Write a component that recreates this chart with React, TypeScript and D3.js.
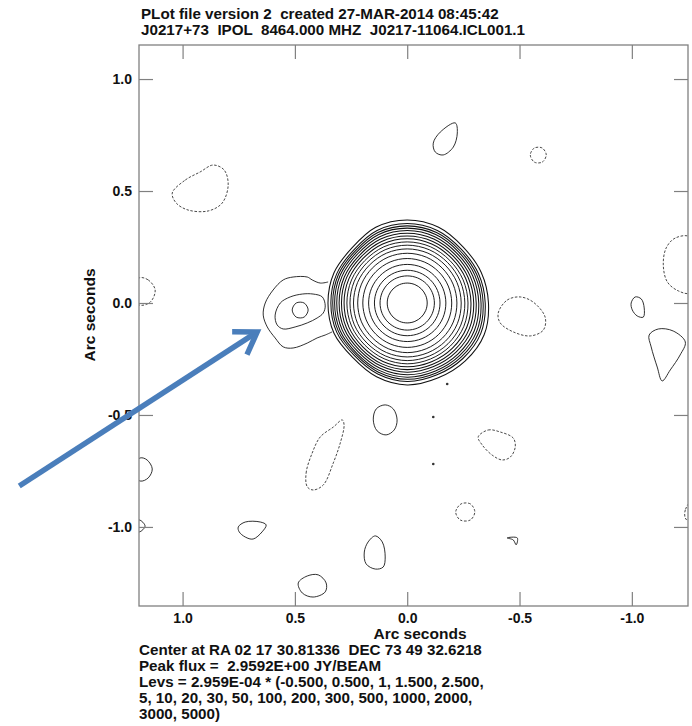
import React, { useRef, useEffect } from 'react';
import * as d3 from 'd3';

type Pt = [number, number];

const headerLines = [
  'PLot file version 2  created 27-MAR-2014 08:45:42',
  'J0217+73  IPOL  8464.000 MHZ  J0217-11064.ICL001.1',
];
const footerLines = [
  'Center at RA 02 17 30.81336  DEC 73 49 32.6218',
  'Peak flux =  2.9592E+00 JY/BEAM',
  'Levs = 2.959E-04 * (-0.500, 0.500, 1, 1.500, 2.500,',
  '5, 10, 20, 30, 50, 100, 200, 300, 500, 1000, 2000,',
  '3000, 5000)',
];
const tickValues = [1.0, 0.5, 0.0, -0.5, -1.0];
const tickLabels = ['1.0', '0.5', '0.0', '-0.5', '-1.0'];

// arc seconds shown on each axis (RA grows to the left)
const xExtent: Pt = [1.194, -1.25];
const yExtent: Pt = [-1.353, 1.152];

// core: ring radii (arcsec) from the 5000 level out to the 0.5 level
const coreRadii = [0.089, 0.121, 0.146, 0.172, 0.198, 0.221, 0.24, 0.256, 0.27, 0.283, 0.295, 0.306, 0.317, 0.327, 0.336, 0.345, 0.359];
// outermost core contour, radius every 22.5 deg starting at screen right, going up
const coreOutline = [0.362, 0.357, 0.353, 0.366, 0.371, 0.366, 0.348, 0.353, 0.353, 0.353, 0.344, 0.357, 0.366, 0.362, 0.366, 0.371];

const solidContours: Pt[][] = [
  [[-0.116, 0.714], [-0.147, 0.763], [-0.214, 0.804], [-0.223, 0.759], [-0.205, 0.696], [-0.16, 0.661], [-0.125, 0.674]],
  [[-0.997, 0.0], [-1.015, 0.027], [-1.042, 0.018], [-1.055, -0.022], [-1.051, -0.063], [-1.024, -0.058], [-1.002, -0.031]],
  [[-1.077, -0.143], [-1.118, -0.116], [-1.184, -0.125], [-1.238, -0.174], [-1.215, -0.232], [-1.171, -0.299], [-1.135, -0.348], [-1.113, -0.286], [-1.086, -0.196]],
  [[1.189, -0.692], [1.158, -0.701], [1.135, -0.741], [1.153, -0.781], [1.189, -0.795], [1.233, -0.746]],
  [[1.193, -0.969], [1.167, -0.996], [1.193, -1.022], [1.215, -0.996]],
  [[0.045, -0.522], [0.062, -0.473], [0.098, -0.455], [0.138, -0.473], [0.151, -0.522], [0.134, -0.571], [0.094, -0.589], [0.058, -0.567]],
  [[0.752, -1.0], [0.721, -0.978], [0.654, -0.978], [0.628, -0.991], [0.646, -1.022], [0.686, -1.054], [0.721, -1.045], [0.748, -1.022]],
  [[0.174, -1.067], [0.142, -1.04], [0.111, -1.067], [0.098, -1.134], [0.107, -1.179], [0.142, -1.188], [0.183, -1.165], [0.191, -1.112]],
  [[0.485, -1.25], [0.445, -1.219], [0.396, -1.214], [0.361, -1.25], [0.365, -1.29], [0.419, -1.313], [0.467, -1.295]],
  [[-0.445, -1.049], [-0.49, -1.049], [-0.485, -1.08], [-0.472, -1.058]],
  // companion, 1 and higher levels
  [[0.378, 0.027], [0.419, 0.04], [0.467, 0.04], [0.521, 0.027], [0.565, 0.0], [0.588, -0.054], [0.579, -0.098], [0.552, -0.116], [0.499, -0.107], [0.445, -0.089], [0.401, -0.067], [0.374, -0.045], [0.365, -0.013]],
  [[0.441, -0.031], [0.459, 0.0], [0.494, 0.0], [0.512, -0.031], [0.494, -0.063], [0.459, -0.063]],
];

const dashedContours: Pt[][] = [
  [[-0.619, 0.661], [-0.601, 0.692], [-0.566, 0.692], [-0.548, 0.661], [-0.566, 0.629], [-0.601, 0.629]],
  [[-1.26, 0.295], [-1.193, 0.29], [-1.153, 0.246], [-1.14, 0.17], [-1.158, 0.094], [-1.207, 0.054], [-1.26, 0.045], [-1.305, 0.17]],
  [[-0.405, -0.045], [-0.445, 0.013], [-0.503, 0.027], [-0.561, 0.004], [-0.614, -0.063], [-0.606, -0.121], [-0.548, -0.147], [-0.472, -0.129], [-0.414, -0.089]],
  [[1.046, 0.491], [0.988, 0.549], [0.922, 0.585], [0.864, 0.616], [0.815, 0.594], [0.797, 0.527], [0.824, 0.446], [0.886, 0.411], [0.975, 0.415], [1.028, 0.446]],
  [[1.193, 0.112], [1.153, 0.103], [1.122, 0.058], [1.144, 0.004], [1.193, -0.009], [1.233, 0.049]],
  [[0.445, -0.821], [0.45, -0.759], [0.423, -0.67], [0.387, -0.598], [0.329, -0.554], [0.289, -0.522], [0.281, -0.545], [0.298, -0.625], [0.329, -0.714], [0.374, -0.813], [0.419, -0.835]],
  [[-0.316, -0.598], [-0.361, -0.567], [-0.414, -0.576], [-0.472, -0.603], [-0.481, -0.643], [-0.459, -0.688], [-0.423, -0.701], [-0.378, -0.679], [-0.334, -0.634]],
  [[-0.301, -0.933], [-0.281, -0.897], [-0.24, -0.897], [-0.216, -0.933], [-0.236, -0.969], [-0.281, -0.969]],
  [[-1.26, -0.893], [-1.238, -0.924], [-1.238, -0.96], [-1.26, -0.978], [-1.305, -0.933]],
];

// companion 0.5 level, merges into the core
const companionOuter: Pt[] = [[0.352, 0.094], [0.387, 0.089], [0.423, 0.103], [0.445, 0.116], [0.508, 0.116], [0.552, 0.103], [0.597, 0.058], [0.632, 0.0], [0.641, -0.054], [0.623, -0.107], [0.588, -0.156], [0.552, -0.196], [0.508, -0.201], [0.445, -0.179], [0.401, -0.156], [0.365, -0.143], [0.334, -0.129]];

const speckles: Pt[] = [[-0.116, -0.509], [-0.116, -0.719], [-0.178, -0.362]];

const arrowTail: Pt = [1.727, -0.817];
const arrowTip: Pt = [0.668, -0.129];

const W = 692;
const H = 726;
const plot = { left: 139, right: 688, top: 45, bottom: 606 };
const FONT = '"Liberation Sans", Arial, Helvetica, sans-serif';

const App = () => {
  const svgRef = useRef(null);

  useEffect(() => {
    const svg = d3.select(svgRef.current).attr('width', W).attr('height', H);
    svg.selectAll('*').remove();

    const x = d3.scaleLinear().domain(xExtent).range([plot.left, plot.right]);
    const y = d3.scaleLinear().domain(yExtent).range([plot.bottom, plot.top]);

    svg.append('rect').attr('width', W).attr('height', H).attr('fill', '#fff');

    svg.append('defs').append('clipPath').attr('id', 'plot-clip')
      .append('rect')
      .attr('x', plot.left).attr('y', plot.top)
      .attr('width', plot.right - plot.left).attr('height', plot.bottom - plot.top);

    const closed = d3.line<Pt>().x(d => x(d[0])).y(d => y(d[1])).curve(d3.curveCatmullRomClosed.alpha(0.5));
    const open = d3.line<Pt>().x(d => x(d[0])).y(d => y(d[1])).curve(d3.curveCatmullRom.alpha(0.5));

    const g = svg.append('g').attr('clip-path', 'url(#plot-clip)');

    // core rings, outer ones take on the shape of the outermost contour
    const outlineMean = d3.mean(coreOutline) as number;
    const rOuter = coreRadii[coreRadii.length - 1];
    const rings = coreRadii.map(r => {
      const w = Math.pow(r / rOuter, 4);
      return coreOutline.map((o, k) => {
        const a = (k * Math.PI) / 8;
        const rr = r * (1 - w + (w * o) / outlineMean);
        return [-rr * Math.cos(a), rr * Math.sin(a)] as Pt;
      });
    });

    g.selectAll('.core')
      .data(rings)
      .enter()
      .append('path')
      .attr('class', 'core')
      .attr('d', d => closed(d))
      .attr('fill', 'none')
      .attr('stroke', '#111')
      .attr('stroke-width', (_, i) => (i > 8 ? 1.05 : 0.95));

    g.append('path')
      .attr('d', open(companionOuter))
      .attr('fill', 'none')
      .attr('stroke', '#1a1a1a')
      .attr('stroke-width', 0.9);

    g.selectAll('.solid')
      .data(solidContours)
      .enter()
      .append('path')
      .attr('class', 'solid')
      .attr('d', d => closed(d))
      .attr('fill', 'none')
      .attr('stroke', '#1a1a1a')
      .attr('stroke-width', 0.9);

    g.selectAll('.dashed')
      .data(dashedContours)
      .enter()
      .append('path')
      .attr('class', 'dashed')
      .attr('d', d => closed(d))
      .attr('fill', 'none')
      .attr('stroke', '#333')
      .attr('stroke-width', 0.9)
      .attr('stroke-dasharray', '2.5,1.6');

    g.selectAll('.speck')
      .data(speckles)
      .enter()
      .append('circle')
      .attr('cx', d => x(d[0]))
      .attr('cy', d => y(d[1]))
      .attr('r', 1.3)
      .attr('fill', '#333');

    // frame and ticks
    const styleAxis = (sel: d3.Selection<SVGGElement, unknown, null, undefined>) => {
      sel.select('.domain').remove();
      sel.selectAll('.tick line').attr('stroke', '#808080').attr('stroke-width', 1.2);
      sel.attr('font-family', FONT).attr('font-size', 14).attr('font-weight', 'bold');
      sel.selectAll('.tick text').attr('fill', '#111');
    };
    const fmt = (_: d3.NumberValue, i: number) => tickLabels[i];

    svg.append('g')
      .attr('transform', `translate(0,${plot.bottom})`)
      .call(d3.axisBottom(x).tickValues(tickValues).tickFormat(fmt).tickSizeInner(-14).tickSizeOuter(0).tickPadding(7))
      .call(styleAxis);
    svg.append('g')
      .attr('transform', `translate(0,${plot.top})`)
      .call(d3.axisTop(x).tickValues(tickValues).tickFormat(() => '').tickSizeInner(-14).tickSizeOuter(0))
      .call(styleAxis);
    svg.append('g')
      .attr('transform', `translate(${plot.left},0)`)
      .call(d3.axisLeft(y).tickValues(tickValues).tickFormat(fmt).tickSizeInner(-14).tickSizeOuter(0).tickPadding(7))
      .call(styleAxis);
    svg.append('g')
      .attr('transform', `translate(${plot.right},0)`)
      .call(d3.axisRight(y).tickValues(tickValues).tickFormat(() => '').tickSizeInner(-14).tickSizeOuter(0))
      .call(styleAxis);

    svg.append('rect')
      .attr('x', plot.left).attr('y', plot.top)
      .attr('width', plot.right - plot.left).attr('height', plot.bottom - plot.top)
      .attr('fill', 'none')
      .attr('stroke', '#808080')
      .attr('stroke-width', 1.3);

    // texts
    const text = (parent: any, t: string, tx: number, ty: number, size: number, anchor = 'start') =>
      parent.append('text')
        .attr('x', tx).attr('y', ty)
        .attr('font-family', FONT).attr('font-size', size).attr('font-weight', 'bold')
        .attr('fill', '#111')
        .attr('text-anchor', anchor)
        .style('white-space', 'pre')
        .text(t);

    // the plot fonts are a little wider than Liberation Sans
    const header = svg.append('g').attr('transform', 'translate(141,0) scale(1.085,1)');
    headerLines.forEach((t, i) => text(header, t, 0, 19 + i * 16, 14));
    const footer = svg.append('g').attr('transform', 'translate(139,0) scale(1.085,1)');
    footerLines.forEach((t, i) => text(footer, t, 0, 655 + i * 16, 14));
    text(svg, 'Arc seconds', 420, 639, 15.5, 'middle');
    text(svg, 'Arc seconds', 0, 0, 15.5, 'middle').attr('transform', 'translate(95,315) rotate(-90)');

    // annotation arrow
    const tx = x(arrowTip[0]);
    const ty = y(arrowTip[1]);
    const sx = x(arrowTail[0]);
    const sy = y(arrowTail[1]);
    const ang = Math.atan2(sy - ty, sx - tx);
    const wing = 25;
    const spread = (33 * Math.PI) / 180;
    const arrow = svg.append('g').attr('stroke', '#4a7ebb').attr('fill', 'none').attr('stroke-width', 5.5);
    arrow.append('line').attr('x1', sx).attr('y1', sy).attr('x2', tx + 3 * Math.cos(ang)).attr('y2', ty + 3 * Math.sin(ang));
    arrow.append('path')
      .attr('stroke-linejoin', 'miter')
      .attr('d', d3.line()([
        [tx + wing * Math.cos(ang - spread), ty + wing * Math.sin(ang - spread)],
        [tx, ty],
        [tx + wing * Math.cos(ang + spread), ty + wing * Math.sin(ang + spread)],
      ]));
  }, []);

  return <svg ref={svgRef} style={{ position: 'absolute', left: 0, top: 0 }}></svg>;
};

export default App;
